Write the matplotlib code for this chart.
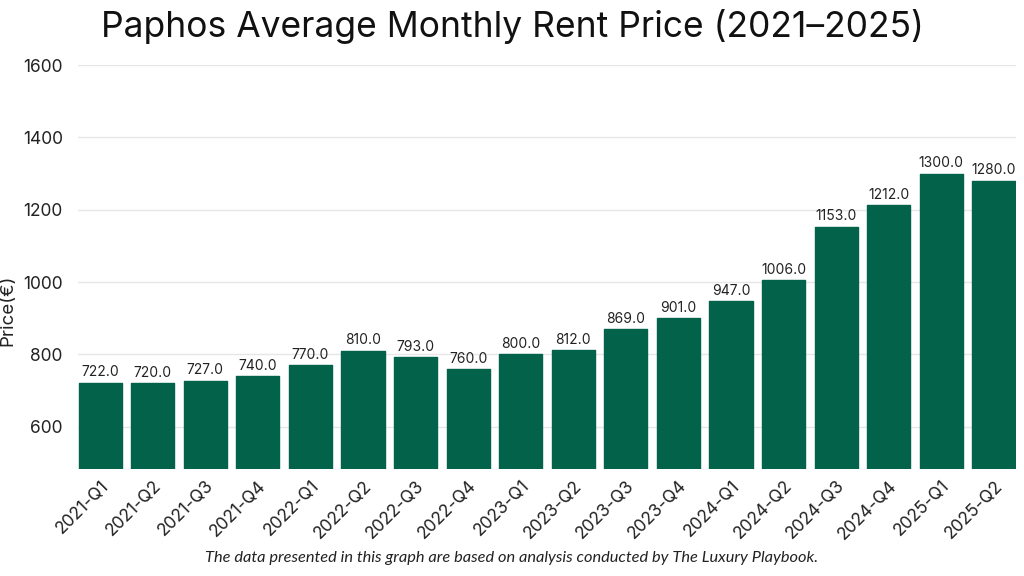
import matplotlib
matplotlib.use("Agg")
import matplotlib.pyplot as plt

quarters = ["2021-Q1", "2021-Q2", "2021-Q3", "2021-Q4",
            "2022-Q1", "2022-Q2", "2022-Q3", "2022-Q4",
            "2023-Q1", "2023-Q2", "2023-Q3", "2023-Q4",
            "2024-Q1", "2024-Q2", "2024-Q3", "2024-Q4",
            "2025-Q1", "2025-Q2"]
rents = [722.0, 720.0, 727.0, 740.0, 770.0, 810.0, 793.0, 760.0, 800.0,
         812.0, 869.0, 901.0, 947.0, 1006.0, 1153.0, 1212.0, 1300.0, 1280.0]
yticks = [600, 800, 1000, 1200, 1400, 1600]

plt.rcParams['font.family'] = ['Inter', 'DejaVu Sans']
fig = plt.figure(figsize=(10.24, 5.76), dpi=100)
ax = fig.add_axes([78/1024, 1 - 469/576, (1016-78)/1024, (469-65)/576])

color = "#03624A"
x = list(range(len(quarters)))
ax.bar(x, rents, width=0.82, color=color, edgecolor=color,
       linewidth=1.0, joinstyle='round', zorder=3)
for xi, v in zip(x, rents):
    ax.text(xi, v + 9, f"{v:.1f}", ha='center', va='bottom', fontsize=10,
            color="#222222", zorder=4)

ax.set_xlim(-0.42, len(quarters) - 1 + 0.42)
ax.set_ylim(483, 1600)
ax.set_yticks(yticks)
ax.set_yticklabels([str(t) for t in yticks], fontsize=12.5, color="#222222")
ax.set_xticks(x)
ax.set_xticklabels(quarters, rotation=45, ha='right', rotation_mode='anchor',
                   fontsize=12.5, color="#222222")
ax.tick_params(axis='both', length=0)
ax.tick_params(axis='y', pad=11)
ax.tick_params(axis='x', pad=6)
ax.grid(axis='y', color="#e6e6e6", linewidth=1, zorder=0)
for s in ax.spines.values():
    s.set_visible(False)

ax.set_ylabel("Price(€)", fontsize=13.5, color="#222222")
ax.yaxis.set_label_coords(-(78 - 16) / 938, (469 - 310) / 404)
fig.text(0.5, 1 - 27/576, "Paphos Average Monthly Rent Price (2021–2025)",
         ha='center', va='center', fontsize=25.5, color="#111111")
fig.text(0.5, 1 - 558/576,
         "The data presented in this graph are based on analysis conducted by The Luxury Playbook.",
         ha='center', va='center', fontsize=11.8, style='italic',
         family=['Lato', 'DejaVu Sans'], color="#222222")

fig.savefig("out.png", dpi=100)
